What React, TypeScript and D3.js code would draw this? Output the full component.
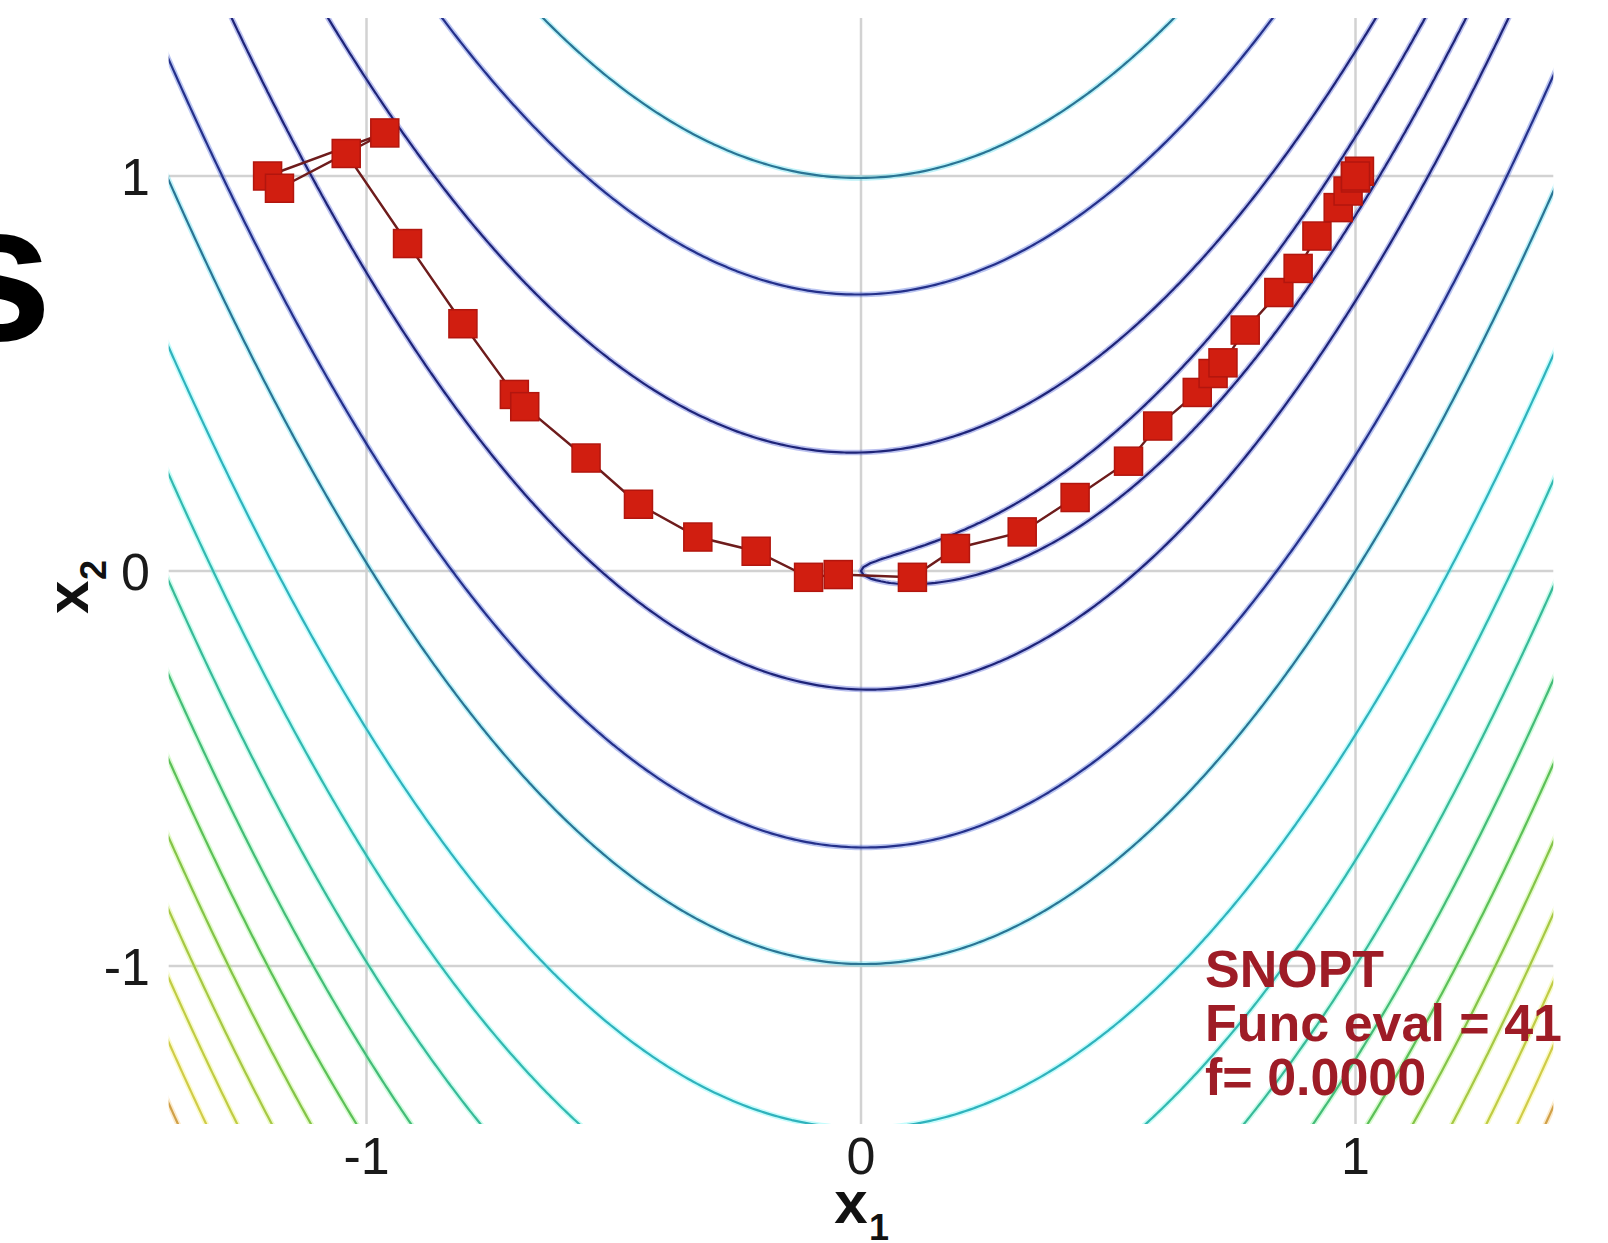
import { useEffect, useRef } from 'react'
import * as d3 from 'd3'

const W = 1608
const H = 1243

// contour levels of the Rosenbrock surface
const levels = [1, 10, 50, 100, 200, 300, 400, 500, 600, 700, 800, 900, 1000, 1100]
const coreColors = ['#1e2478', '#1e2478', '#24308a', '#2a7494', '#30b2bc', '#33b8b0', '#38ba98', '#44bc78', '#5cc058', '#84c448', '#a6c844', '#c0cc44', '#d0cc48', '#d0a048']
const glowColors = ['#3a4ad0', '#3a4ad0', '#3a5ad8', '#40d8ea', '#5af6f6', '#5af6e6', '#66f4c8', '#76f49a', '#8ef278', '#aef066', '#ccf064', '#e4f064', '#f4f066', '#f4c466']

const ticks = [-1, 0, 1]

// SNOPT iterates
const pathX1 = [-1.2, -0.963, -1.176, -1.041, -0.917, -0.805, -0.701, -0.68, -0.556, -0.45, -0.33, -0.212, -0.106, -0.046, 0.104, 0.191, 0.326, 0.433, 0.541, 0.6, 0.68, 0.712, 0.732, 0.777, 0.845, 0.884, 0.922, 0.965, 0.985, 1.0, 1.008, 1.0]
const pathX2 = [1.0, 1.109, 0.969, 1.057, 0.829, 0.626, 0.447, 0.416, 0.286, 0.169, 0.086, 0.05, -0.016, -0.009, -0.016, 0.057, 0.099, 0.186, 0.278, 0.367, 0.452, 0.5, 0.527, 0.61, 0.705, 0.766, 0.848, 0.92, 0.962, 0.995, 1.012, 1.0]

const notes = ['SNOPT', 'Func eval = 41', 'f= 0.0000']

const rosen = (a: number, b: number) => (1 - a) ** 2 + 100 * (b - a * a) ** 2

export default function App() {
  const ref = useRef<SVGSVGElement>(null)

  useEffect(() => {
    const svg = d3.select(ref.current)
    svg.selectAll('*').remove()

    const font = "'Liberation Sans', Arial, sans-serif"
    const x = d3.scaleLinear([-1.4, 1.4], [168.7, 1553.3])
    const y = d3.scaleLinear([-1.4, 1.4], [1124, 18])

    svg.append('defs').append('clipPath').attr('id', 'plot')
      .append('rect')
      .attr('x', x(-1.4)).attr('y', y(1.4))
      .attr('width', x(1.4) - x(-1.4)).attr('height', y(-1.4) - y(1.4))

    // grid
    const grid = svg.append('g').attr('stroke', '#d2d2d2').attr('stroke-width', 2.5)
    grid.selectAll('.h').data(ticks).join('line')
      .attr('x1', x(-1.4)).attr('x2', x(1.4))
      .attr('y1', d => y(d)).attr('y2', d => y(d))
    grid.selectAll('.v').data(ticks).join('line')
      .attr('y1', y(1.4)).attr('y2', y(-1.4))
      .attr('x1', d => x(d)).attr('x2', d => x(d))

    // contour field
    const n = 321
    const g0 = -1.6
    const h = 3.2 / (n - 1)
    const values: number[] = new Array(n * n)
    for (let j = 0; j < n; j++) {
      for (let i = 0; i < n; i++) values[j * n + i] = rosen(g0 + i * h, g0 + j * h)
    }
    const bands = d3.contours().size([n, n]).thresholds(levels)(values)
    const proj = d3.geoTransform({
      point(px: number, py: number) {
        this.stream.point(x(g0 + (px - 0.5) * h), y(g0 + (py - 0.5) * h))
      }
    })
    const geo = d3.geoPath(proj)

    const cg = svg.append('g').attr('clip-path', 'url(#plot)').attr('fill', 'none')
    cg.selectAll('.glow').data(bands).join('path')
      .attr('d', geo as any)
      .attr('stroke', (d, i) => glowColors[i])
      .attr('stroke-opacity', 0.35)
      .attr('stroke-width', 5.5)
    cg.selectAll('.core').data(bands).join('path')
      .attr('d', geo as any)
      .attr('stroke', (d, i) => coreColors[i])
      .attr('stroke-width', 2.2)

    // optimisation path
    const pts = pathX1.map((v, i) => [v, pathX2[i]] as [number, number])
    const line = d3.line<[number, number]>().x(d => x(d[0])).y(d => y(d[1]))
    svg.append('path')
      .attr('d', line(pts))
      .attr('fill', 'none')
      .attr('stroke', '#6e1c1c')
      .attr('stroke-width', 2.4)
    const s = 28
    svg.selectAll('.pt').data(pts).join('rect')
      .attr('x', d => x(d[0]) - s / 2)
      .attr('y', d => y(d[1]) - s / 2)
      .attr('width', s).attr('height', s)
      .attr('fill', '#d11e10')
      .attr('stroke', '#b2160e')
      .attr('stroke-width', 1.5)

    // tick labels
    svg.selectAll('.yt').data(ticks).join('text')
      .attr('x', 150).attr('y', d => y(d))
      .attr('dy', '0.36em')
      .attr('text-anchor', 'end')
      .attr('font-family', font).attr('font-size', 52).attr('fill', '#1a1a1a')
      .text(d => String(d))
    svg.selectAll('.xt').data(ticks).join('text')
      .attr('x', d => x(d)).attr('y', 1174)
      .attr('text-anchor', 'middle')
      .attr('font-family', font).attr('font-size', 52).attr('fill', '#1a1a1a')
      .text(d => String(d))

    // axis labels
    svg.append('text').attr('x', 851).attr('y', 1223).attr('text-anchor', 'middle')
      .attr('font-family', font).attr('font-weight', 'bold').attr('font-size', 60).attr('fill', '#111')
      .text('x')
    svg.append('text').attr('x', 869).attr('y', 1240)
      .attr('font-family', font).attr('font-weight', 'bold').attr('font-size', 36).attr('fill', '#111')
      .text('1')
    const yl = svg.append('g').attr('transform', 'translate(88,614) rotate(-90)')
    yl.append('text').attr('x', 0).attr('y', 0)
      .attr('font-family', font).attr('font-weight', 'bold').attr('font-size', 60).attr('fill', '#111')
      .text('x')
    yl.append('text').attr('x', 34).attr('y', 18)
      .attr('font-family', font).attr('font-weight', 'bold').attr('font-size', 36).attr('fill', '#111')
      .text('2')

    // annotation
    svg.selectAll('.note').data(notes).join('text')
      .attr('x', 1205).attr('y', (d, i) => 987 + i * 54)
      .attr('font-family', font).attr('font-weight', 'bold').attr('font-size', 52)
      .attr('fill', '#9e1c26')
      .text(d => d)

    // cropped slide title letter
    svg.append('text').attr('x', 52).attr('y', 340).attr('text-anchor', 'end')
      .attr('font-family', font).attr('font-weight', 'bold').attr('font-size', 196).attr('fill', '#000')
      .text('s')
  }, [])

  return (
    <svg ref={ref} width={W} height={H} viewBox={`0 0 ${W} ${H}`}
      style={{ position: 'absolute', left: 0, top: 0, background: '#fff' }} />
  )
}
